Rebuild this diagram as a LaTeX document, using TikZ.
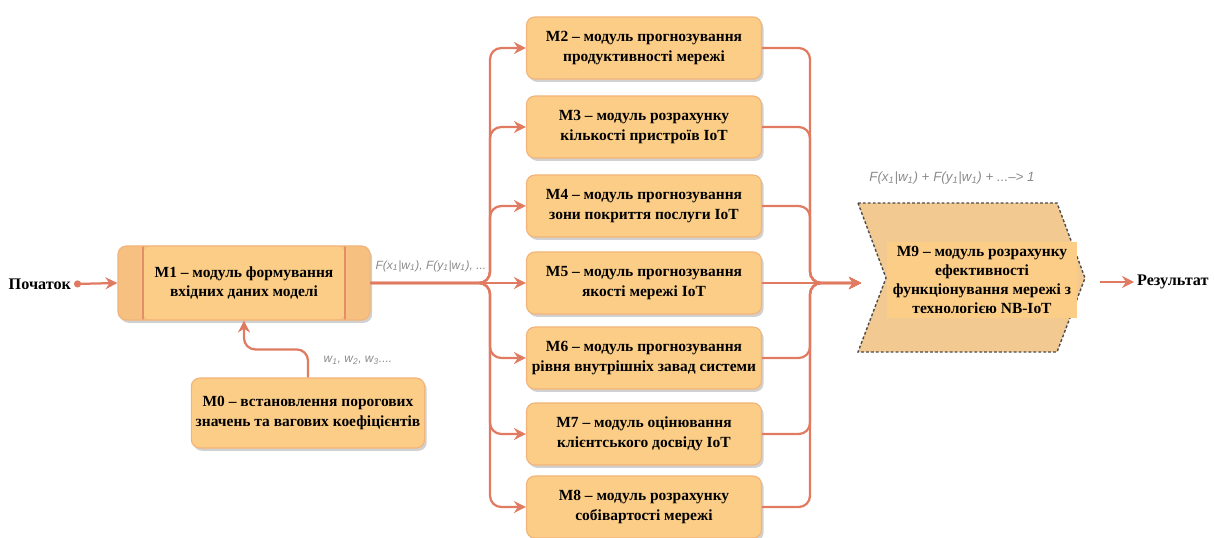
\documentclass[tikz,border=0pt]{standalone}
\usepackage{fontspec}
\setmainfont{Liberation Serif}
\setsansfont{Liberation Sans}
\usetikzlibrary{arrows.meta,positioning,shadows}
\definecolor{boxfill}{HTML}{FBCD86}
\definecolor{boxedge}{HTML}{F2B47A}
\definecolor{sidefill}{HTML}{F5C080}
\definecolor{flow}{HTML}{E07B62}
\definecolor{chevfill}{HTML}{F2C991}
\definecolor{labelgray}{HTML}{8A8A8A}

\begin{document}
\begin{tikzpicture}[x=0.025cm, y=-0.025cm,
  module/.style={draw=boxedge, line width=0.8pt, rounded corners=6pt, fill=boxfill,
                 minimum width=5.875cm, minimum height=1.55cm, align=center,
                 inner sep=2pt, font=\bfseries\fontsize{11}{14}\selectfont,
                 drop shadow={shadow xshift=1.5pt, shadow yshift=-2pt,
                              opacity=0.3, fill=black!60}},
  predef/.style={module, fill=sidefill, minimum width=6.3cm, minimum height=1.85cm,
                 path picture={
                   \fill[boxfill] ([xshift=0.625cm]path picture bounding box.north west)
                     rectangle ([xshift=-0.625cm]path picture bounding box.south east);
                   \draw[flow!70!boxedge, line width=0.8pt]
                     ([xshift=0.625cm]path picture bounding box.north west) --
                     ([xshift=0.625cm]path picture bounding box.south west);
                   \draw[flow!70!boxedge, line width=0.8pt]
                     ([xshift=-0.625cm]path picture bounding box.north east) --
                     ([xshift=-0.625cm]path picture bounding box.south east);}},
  result/.style={fill=boxfill, minimum width=4.725cm, minimum height=1.875cm,
                 align=center, inner sep=1pt,
                 font=\bfseries\fontsize{11}{13.3}\selectfont},
  endtext/.style={font=\bfseries\fontsize{11.5}{14}\selectfont, inner sep=2pt},
  note/.style={font=\sffamily\itshape\fontsize{8.5}{10}\selectfont, text=labelgray},
  flowline/.style={draw=flow, line width=1.6pt},
  arrow/.style={flowline, -{Stealth[length=3mm, width=3mm, inset=1mm]}}
]
\useasboundingbox (0,0) rectangle (1215,538);

% input side
\node[predef] (m1) at (244,283) {M1 -- модуль формування\\вхідних даних моделі};
\node[module, minimum width=5.83cm, minimum height=1.75cm] (m0) at (308,413)
  {M0 -- встановлення порогових\\значень та вагових коефіцієнтів};
\node[endtext, anchor=east] (start) at (74,284) {Початок};
\draw[flowline, {Circle[length=5pt]}-{Stealth[length=3mm, width=3mm, inset=1mm]}]
  (start.east) -- (m1.west);
\draw[arrow, rounded corners=8] (m0.north) -- ++(0,-28) -| (m1.south);
\node[note] (wlabel) at (358,360) {w\textsubscript{1}, w\textsubscript{2}, w\textsubscript{3}....};
\node[note] (flabel) at (431,266)
  {F(x\textsubscript{1}|w\textsubscript{1}), F(y\textsubscript{1}|w\textsubscript{1}), ...};

% parallel modules
\node[module] (m2) at (644,48) {M2 -- модуль прогнозування\\продуктивності мережі};
\node[module] (m3) at (644,127) {M3 -- модуль розрахунку\\кількості пристроїв IoT};
\node[module] (m4) at (644,206) {M4 -- модуль прогнозування\\зони покриття послуги IoT};
\node[module] (m5) at (644,283) {M5 -- модуль прогнозування\\якості мережі IoT};
\node[module] (m6) at (644,358) {M6 -- модуль прогнозування\\рівня внутрішніх завад системи};
\node[module] (m7) at (644,434) {M7 -- модуль оцінювання\\клієнтського досвіду IoT};
\node[module] (m8) at (644,507) {M8 -- модуль розрахунку\\собівартості мережі};

\coordinate (split) at (490,283);
\draw[arrow, rounded corners=8] (m1.east) -- (split) |- (m2.west);
\draw[arrow, rounded corners=8] (m1.east) -- (split) |- (m3.west);
\draw[arrow, rounded corners=8] (m1.east) -- (split) |- (m4.west);
\draw[arrow] (m1.east) -- (m5.west);
\draw[arrow, rounded corners=8] (m1.east) -- (split) |- (m6.west);
\draw[arrow, rounded corners=8] (m1.east) -- (split) |- (m7.west);
\draw[arrow, rounded corners=8] (m1.east) -- (split) |- (m8.west);

% output side
\filldraw[fill=chevfill, draw=black!70, line width=1pt, dash pattern=on 2pt off 1.5pt]
  (858,203) -- (1057,203) -- (1085,278) -- (1057,352) -- (858,352) -- (886,278) -- cycle;
\node[result] (m9) at (982,280)
  {M9 -- модуль розрахунку\\ефективності\\функціонування мережі з\\технологією NB-IoT};
\node[note, font=\sffamily\itshape\fontsize{9.5}{11}\selectfont] (sumlabel) at (952,178)
  {F(x\textsubscript{1}|w\textsubscript{1}) + F(y\textsubscript{1}|w\textsubscript{1}) + ...--> 1};

\coordinate (join) at (810,283);
\coordinate (m9in) at (861,283);
\draw[arrow, rounded corners=8] (m2.east) -| (join) -- (m9in);
\draw[arrow, rounded corners=8] (m3.east) -| (join) -- (m9in);
\draw[arrow, rounded corners=8] (m4.east) -| (join) -- (m9in);
\draw[arrow] (m5.east) -- (m9in);
\draw[arrow, rounded corners=8] (m6.east) -| (join) -- (m9in);
\draw[arrow, rounded corners=8] (m7.east) -| (join) -- (m9in);
\draw[arrow, rounded corners=8] (m8.east) -| (join) -- (m9in);

\coordinate (outstart) at (1100,282);
\node[endtext, anchor=west] (res) at (1134,282) {Результат};
\draw[arrow] (outstart) -- (res.west);
\end{tikzpicture}
\end{document}
